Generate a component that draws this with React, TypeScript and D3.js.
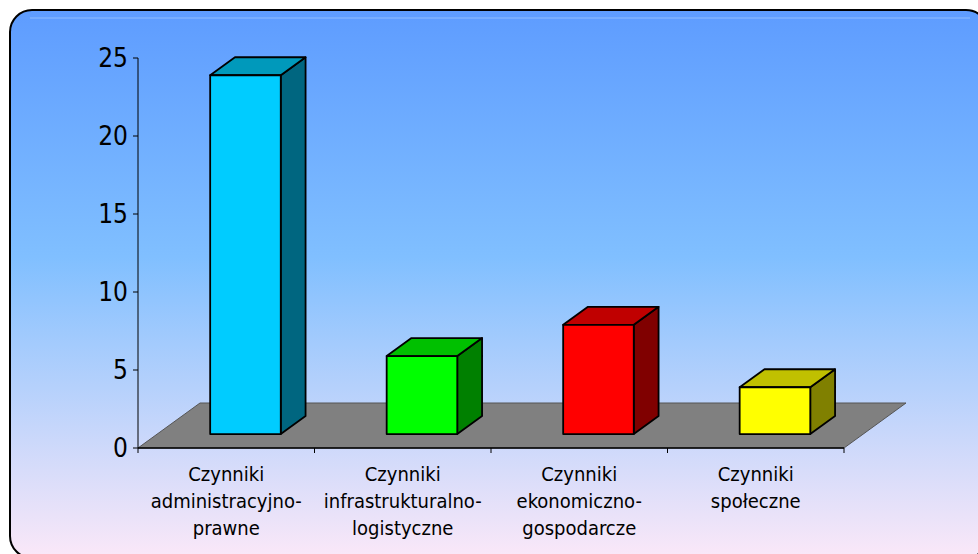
import React from "react";
import * as d3 from "d3";

const categories = ["adm", "infra", "eko", "spol"];
const categoryLabels: string[][] = [
  ["Czynniki", "administracyjno-", "prawne"],
  ["Czynniki", "infrastrukturalno-", "logistyczne"],
  ["Czynniki", "ekonomiczno-", "gospodarcze"],
  ["Czynniki", "społeczne"],
];
const values = [23, 5, 7, 3];
const frontColors = ["#00ccff", "#00ff00", "#ff0000", "#ffff00"];
const topColors = ["#0099bb", "#00c000", "#c00000", "#c0c000"];
const sideColors = ["#006680", "#008000", "#800000", "#808000"];
const yTicks = [0, 5, 10, 15, 20, 25];

export default function App() {
  const W = 978, H = 554;
  const x0 = 138, x1 = 844, yBase = 448, yTop = 58;
  const depthX = 62, depthY = -45; // floor depth vector
  const fFront = 0.31, fBack = 0.71;

  const y = d3.scaleLinear().domain([0, 25]).range([yBase, yTop]);
  const xb = d3.scaleBand<string>().domain(categories).range([x0, x1]).padding(0);
  const bw = xb.bandwidth();
  const barW = bw * 0.4;

  const fdx = depthX * fFront, fdy = depthY * fFront;
  const bdx = depthX * (fBack - fFront), bdy = depthY * (fBack - fFront);

  const floor = [
    [x0, yBase], [x1, yBase], [x1 + depthX, yBase + depthY], [x0 + depthX, yBase + depthY],
  ];
  const pts = (p: number[][]) => p.map((q) => q.join(",")).join(" ");

  return (
    <svg width={W} height={H} style={{ display: "block", position: "absolute", left: 0, top: 0 }}
      fontFamily="'DejaVu Sans Condensed', 'DejaVu Sans', sans-serif">
      <defs>
        <linearGradient id="bg" x1="0" y1="0" x2="0" y2="1">
          <stop offset="0%" stopColor="#5e9cff" />
          <stop offset="45%" stopColor="#80bfff" />
          <stop offset="100%" stopColor="#fbe8f8" />
        </linearGradient>
      </defs>
      <rect x={0} y={0} width={W} height={H} fill="#ffffff" />
      <rect x={10} y={10} width={978} height={548} rx={22} ry={22} fill="url(#bg)" stroke="#000" strokeWidth={2} />
      <line x1={30} x2={970} y1={18} y2={18} stroke="#8fbcff" strokeWidth={1} />

      {/* floor */}
      <polygon points={pts(floor)} fill="#808080" stroke="#555" strokeWidth={1} />

      {/* y axis */}
      <line x1={x0} x2={x0} y1={yTop} y2={yBase} stroke="#000" strokeWidth={1} />
      {yTicks.map((t) => (
        <g key={t}>
          <line x1={x0 - 5} x2={x0} y1={y(t)} y2={y(t)} stroke="#000" strokeWidth={1} />
          <text x={x0 - 10} y={y(t)} textAnchor="end" dominantBaseline="central" fontSize={26} fill="#000">
            {t}
          </text>
        </g>
      ))}

      {/* x axis */}
      <line x1={x0} x2={x1} y1={yBase} y2={yBase} stroke="#000" strokeWidth={1.5} />
      {[...categories.map((c) => xb(c) as number), x1].map((xx, i) => (
        <line key={i} x1={xx} x2={xx} y1={yBase} y2={yBase + 5} stroke="#000" strokeWidth={1} />
      ))}

      {/* bars */}
      {categories.map((c, i) => {
        const left = (xb(c) as number) + (bw - barW) / 2 + fdx;
        const right = left + barW;
        const top = y(values[i]) + fdy;
        const bottom = y(0) + fdy;
        const front = [[left, top], [right, top], [right, bottom], [left, bottom]];
        const topFace = [[left, top], [right, top], [right + bdx, top + bdy], [left + bdx, top + bdy]];
        const side = [[right, top], [right + bdx, top + bdy], [right + bdx, bottom + bdy], [right, bottom]];
        return (
          <g key={c} stroke="#000" strokeWidth={1.8} strokeLinejoin="round">
            <polygon points={pts(side)} fill={sideColors[i]} />
            <polygon points={pts(topFace)} fill={topColors[i]} />
            <polygon points={pts(front)} fill={frontColors[i]} />
          </g>
        );
      })}

      {/* category labels */}
      {categories.map((c, i) => (
        <text key={c} textAnchor="middle" fontSize={20} fill="#000">
          {categoryLabels[i].map((l, j) => (
            <tspan key={j} x={(xb(c) as number) + bw / 2} y={481 + j * 27}>{l}</tspan>
          ))}
        </text>
      ))}
    </svg>
  );
}
